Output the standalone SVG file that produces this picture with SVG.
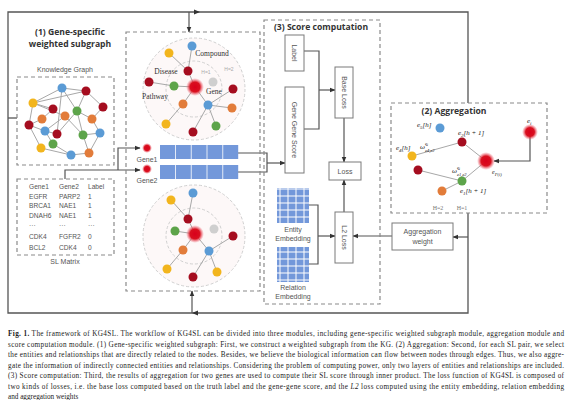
<svg xmlns="http://www.w3.org/2000/svg" width="572" height="400" viewBox="0 0 572 400">
<defs>
<style>
.fr{fill:none;stroke:#555;stroke-width:1.3}
.dash{fill:none;stroke:#8a8a8a;stroke-width:1.2;stroke-dasharray:4 3}
.box{fill:#fff;stroke:#7a7a7a;stroke-width:1}
.cn{fill:none;stroke:#555;stroke-width:1.2}
.ed{stroke:#a8a8a8;stroke-width:1}
.t{font-family:"Liberation Sans",Arial,sans-serif;fill:#555;font-size:7px}
.tt{font-family:"Open Sans","Liberation Sans",sans-serif;font-weight:bold;fill:#333;font-size:8.6px}
.sf{font-family:"Liberation Serif","Times New Roman",serif;fill:#333;font-size:7.5px}
.m{font-family:"Liberation Serif","Times New Roman",serif;font-style:italic;fill:#222;font-size:7px}
.cap{font-family:"Liberation Serif","Times New Roman",serif;fill:#222;font-size:7.2px}
.b{fill:#5b9bd5}.r{fill:#a50d1f}.y{fill:#f2b51d}.g{fill:#5da44a}.o{fill:#e27c3a}.gy{fill:#cfcfcf}
.cell{fill:#7398da}
.ring{fill:#fdf8f8;stroke:#d0d0d0;stroke-width:1;stroke-dasharray:3 2}
.ring2{fill:none;stroke:#d0d0d0;stroke-width:1;stroke-dasharray:3 2}
</style>
<marker id="ah" viewBox="0 0 10 10" refX="9" refY="5" markerWidth="5" markerHeight="5" orient="auto-start-reverse">
<path d="M0,1 L10,5 L0,9 z" fill="#333"/>
</marker>
<radialGradient id="glow">
<stop offset="0" stop-color="#d9001b"/>
<stop offset="0.55" stop-color="#d9101f"/>
<stop offset="1" stop-color="#f06070" stop-opacity="0"/>
</radialGradient>
<pattern id="grid" width="8" height="7" patternUnits="userSpaceOnUse">
<rect width="8" height="7" fill="#fff"/>
<rect x="0.5" y="0.5" width="7" height="6" fill="#7398da"/>
</pattern>
</defs>

<g id="connectors">
<polyline class="fr" points="468,103 468,12 8,12 8,313 468,313 468,213"/>
<line class="fr" x1="8" y1="118" x2="17" y2="118"/>
<path d="M200,12 l-6,-2.5 v5 z" fill="#333"/>
<line class="cn" x1="189" y1="12" x2="189" y2="32" marker-end="url(#ah)"/>
<path d="M192,313 l6,-2.5 v5 z" fill="#333"/>
<line class="cn" x1="192" y1="313" x2="192" y2="291" marker-end="url(#ah)"/>
<polyline class="cn" points="65,179 65,170 140,170" marker-end="url(#ah)"/>
<polyline class="cn" points="118,170 118,148 140,148" marker-end="url(#ah)"/>
<polyline class="cn" points="238,153 267,153 267,172 238,172"/>
<line class="cn" x1="267" y1="163" x2="285" y2="163" marker-end="url(#ah)"/>
<polyline class="cn" points="304,51 319,51 319,129 304,129"/>
<line class="cn" x1="319" y1="90" x2="335" y2="90" marker-end="url(#ah)"/>
<line class="cn" x1="344" y1="118" x2="344" y2="162" marker-end="url(#ah)"/>
<line class="cn" x1="344" y1="212" x2="344" y2="180" marker-end="url(#ah)"/>
<polyline class="cn" points="309,205 318,205 318,264 309,264"/>
<line class="cn" x1="318" y1="236" x2="335" y2="236" marker-end="url(#ah)"/>
<line class="cn" x1="392" y1="236" x2="353" y2="236" marker-end="url(#ah)"/>
<line class="cn" x1="468" y1="237" x2="453" y2="237" marker-end="url(#ah)"/>
<polyline class="cn" points="530,132 530,161 494,161" marker-end="url(#ah)"/>
</g>

<g id="module1">
<text class="tt" x="70" y="35" text-anchor="middle">(1) Gene-specific</text>
<text class="tt" x="70" y="47" text-anchor="middle">weighted subgraph</text>
</g>

<g id="knowledge-graph">
<text class="t" x="65" y="72" text-anchor="middle">Knowledge Graph</text>
<rect class="dash" x="17" y="77" width="97" height="88"/>
<g class="ed">
<line x1="62" y1="88" x2="86" y2="91"/><line x1="62" y1="88" x2="33" y2="103"/><line x1="62" y1="88" x2="77" y2="111"/><line x1="62" y1="88" x2="57" y2="134"/>
<line x1="33" y1="103" x2="86" y2="91"/><line x1="33" y1="103" x2="53" y2="109"/><line x1="33" y1="103" x2="29" y2="125"/><line x1="33" y1="103" x2="65" y2="116"/>
<line x1="86" y1="91" x2="103" y2="107"/><line x1="86" y1="91" x2="77" y2="111"/><line x1="77" y1="111" x2="92" y2="119"/><line x1="77" y1="111" x2="83" y2="135"/>
<line x1="103" y1="107" x2="92" y2="119"/><line x1="65" y1="116" x2="45" y2="131"/><line x1="65" y1="116" x2="83" y2="135"/><line x1="29" y1="125" x2="45" y2="131"/>
<line x1="29" y1="125" x2="41" y2="148"/><line x1="45" y1="131" x2="57" y2="134"/><line x1="45" y1="131" x2="53" y2="144"/><line x1="83" y1="135" x2="100" y2="133"/>
<line x1="83" y1="135" x2="89" y2="153"/><line x1="100" y1="133" x2="89" y2="153"/><line x1="53" y1="144" x2="71" y2="155"/><line x1="41" y1="148" x2="71" y2="155"/>
<line x1="71" y1="155" x2="89" y2="153"/><line x1="42" y1="119" x2="29" y2="125"/><line x1="42" y1="119" x2="53" y2="109"/><line x1="92" y1="119" x2="100" y2="133"/>
<line x1="57" y1="134" x2="77" y2="111"/>
</g>
<circle class="b" cx="62" cy="88" r="4.5"/><circle class="r" cx="86" cy="91" r="4.5"/><circle class="y" cx="33" cy="103" r="4.5"/>
<circle class="r" cx="53" cy="109" r="4.5"/><circle class="g" cx="77" cy="111" r="4.5"/><circle class="r" cx="103" cy="107" r="4.5"/>
<circle class="o" cx="42" cy="119" r="4.5"/><circle class="o" cx="65" cy="116" r="4.5"/><circle class="o" cx="92" cy="119" r="4.5"/>
<circle class="r" cx="29" cy="125" r="4.5"/><circle class="b" cx="45" cy="131" r="4.5"/><circle class="r" cx="57" cy="134" r="4.5"/>
<circle class="g" cx="83" cy="135" r="4.5"/><circle class="b" cx="100" cy="133" r="4.5"/><circle class="g" cx="53" cy="144" r="4.5"/>
<circle class="y" cx="41" cy="148" r="4.5"/><circle class="b" cx="71" cy="155" r="4.5"/><circle class="o" cx="89" cy="153" r="4.5"/>
</g>

<g id="sl-matrix">
<rect class="dash" x="17" y="179" width="97" height="76"/>
<g class="t" style="font-size:6.6px">
<text x="29" y="189">Gene1</text><text x="59" y="189">Gene2</text><text x="88" y="189">Label</text>
<text x="29" y="198.5">EGFR</text><text x="59" y="198.5">PARP2</text><text x="88" y="198.5">1</text>
<text x="29" y="208">BRCA1</text><text x="59" y="208">NAE1</text><text x="88" y="208">1</text>
<text x="29" y="217.5">DNAH6</text><text x="59" y="217.5">NAE1</text><text x="88" y="217.5">1</text>
<text x="29" y="228">···</text><text x="59" y="228">···</text><text x="88" y="228">···</text>
<text x="29" y="239">CDK4</text><text x="59" y="239">FGFR2</text><text x="88" y="239">0</text>
<text x="29" y="249.5">BCL2</text><text x="59" y="249.5">CDK4</text><text x="88" y="249.5">0</text>
</g>
<text class="t" x="65" y="264" text-anchor="middle">SL Matrix</text>
</g>

<g id="subgraph-module">
<rect class="dash" x="126" y="32" width="134" height="259"/>
</g>

<g id="subgraph-top">
<circle class="ring" cx="194" cy="89" r="51"/>
<circle class="ring2" cx="194" cy="89" r="28"/>
<g class="ed">
<line x1="195" y1="87" x2="188" y2="71"/><line x1="188" y1="71" x2="192" y2="46"/><line x1="188" y1="71" x2="169" y2="53"/>
<line x1="195" y1="87" x2="174" y2="86"/><line x1="174" y1="86" x2="149" y2="82"/><line x1="195" y1="87" x2="183" y2="104"/>
<line x1="183" y1="104" x2="166" y2="124"/><line x1="195" y1="87" x2="208" y2="105"/><line x1="208" y1="105" x2="233" y2="89"/>
<line x1="208" y1="105" x2="232" y2="108"/><line x1="208" y1="105" x2="216" y2="126"/><line x1="208" y1="105" x2="193" y2="132"/>
</g>
<text class="sf" x="212" y="56" text-anchor="middle">Compound</text>
<text class="sf" x="166" y="74" text-anchor="middle">Disease</text>
<text class="sf" x="155" y="99" text-anchor="middle">Pathway</text>
<text class="sf" x="214" y="94" text-anchor="middle">Gene</text>
<text class="t" x="206" y="74" style="font-size:5px;fill:#aaa" text-anchor="middle">H=1</text>
<text class="t" x="229" y="71" style="font-size:5px;fill:#aaa" text-anchor="middle">H=2</text>
<circle class="b" cx="192" cy="46" r="4.5"/><circle class="y" cx="169" cy="53" r="4.5"/><circle class="r" cx="188" cy="71" r="4.5"/>
<circle class="r" cx="149" cy="82" r="4.5"/><circle class="g" cx="174" cy="86" r="4.5"/><circle class="gy" cx="213" cy="82" r="4.5"/>
<circle class="r" cx="233" cy="89" r="4.5"/><circle class="o" cx="183" cy="104" r="4.5"/><circle class="b" cx="208" cy="105" r="4.5"/>
<circle class="o" cx="232" cy="108" r="4.5"/><circle class="y" cx="166" cy="124" r="4.5"/><circle class="r" cx="193" cy="132" r="4.5"/>
<circle class="g" cx="216" cy="126" r="4.5"/>
<circle cx="195" cy="87" r="9" fill="url(#glow)"/>
</g>

<g id="gene-embeddings">
<circle cx="147" cy="148" r="5" fill="url(#glow)"/>
<text class="t" x="147" y="162" text-anchor="middle">Gene1</text>
<circle cx="147" cy="169" r="5" fill="url(#glow)"/>
<text class="t" x="147" y="183" text-anchor="middle">Gene2</text>
<g class="cell">
<rect x="160" y="145" width="15" height="14"/><rect x="175.8" y="145" width="15" height="14"/><rect x="191.6" y="145" width="15" height="14"/><rect x="207.4" y="145" width="15" height="14"/><rect x="223.2" y="145" width="15" height="14"/>
<rect x="160" y="165" width="15" height="14"/><rect x="175.8" y="165" width="15" height="14"/><rect x="191.6" y="165" width="15" height="14"/><rect x="207.4" y="165" width="15" height="14"/><rect x="223.2" y="165" width="15" height="14"/>
</g>
</g>

<g id="subgraph-bottom">
<circle class="ring" cx="194" cy="236" r="51"/>
<circle class="ring2" cx="194" cy="236" r="28"/>
<g class="ed">
<line x1="195" y1="234" x2="188" y2="219"/><line x1="188" y1="219" x2="193" y2="193"/><line x1="188" y1="219" x2="171" y2="200"/>
<line x1="195" y1="234" x2="175" y2="231"/><line x1="195" y1="234" x2="183" y2="250"/><line x1="183" y1="250" x2="167" y2="269"/>
<line x1="195" y1="234" x2="209" y2="251"/><line x1="209" y1="251" x2="233" y2="236"/><line x1="209" y1="251" x2="217" y2="272"/>
<line x1="209" y1="251" x2="193" y2="277"/>
</g>
<circle class="b" cx="193" cy="193" r="4.5"/><circle class="y" cx="171" cy="200" r="4.5"/><circle class="r" cx="188" cy="219" r="4.5"/>
<circle class="g" cx="175" cy="231" r="4.5"/><circle class="gy" cx="214" cy="229" r="4.5"/><circle class="r" cx="233" cy="236" r="4.5"/>
<circle class="o" cx="183" cy="250" r="4.5"/><circle class="b" cx="209" cy="251" r="4.5"/><circle class="y" cx="167" cy="269" r="4.5"/>
<circle class="r" cx="193" cy="277" r="4.5"/><circle class="y" cx="217" cy="272" r="4.5"/>
<circle cx="195" cy="234" r="9" fill="url(#glow)"/>
</g>

<g id="score-computation">
<rect class="dash" x="264" y="20" width="116" height="284"/>
<text class="tt" x="321" y="30" text-anchor="middle">(3) Score computation</text>
</g>
<g id="label-box">
<rect class="box" x="285" y="35" width="19" height="36"/>
<text class="t" x="294.5" y="53" text-anchor="middle" dominant-baseline="central" transform="rotate(90 294.5 53)">Label</text>
</g>
<g id="gene-gene-score">
<rect class="box" x="285" y="87" width="19" height="86"/>
<text class="t" x="294.5" y="130" text-anchor="middle" dominant-baseline="central" transform="rotate(90 294.5 130)">Gene Gene Score</text>
</g>
<g id="base-loss">
<rect class="box" x="335" y="67" width="18" height="51"/>
<text class="t" x="344" y="92.5" text-anchor="middle" dominant-baseline="central" transform="rotate(90 344 92.5)">Base Loss</text>
</g>
<g id="loss">
<rect class="box" x="329" y="162" width="32" height="18"/>
<text class="t" x="345" y="173.5" text-anchor="middle">Loss</text>
</g>
<g id="l2-loss">
<rect class="box" x="335" y="212" width="18" height="51"/>
<text class="t" x="344" y="237.5" text-anchor="middle" dominant-baseline="central" transform="rotate(90 344 237.5)">L2 Loss</text>
</g>
<g id="entity-embedding">
<rect x="277" y="188" width="32" height="35" fill="url(#grid)"/>
<text class="t" x="293" y="232" text-anchor="middle">Entity</text>
<text class="t" x="293" y="241" text-anchor="middle">Embedding</text>
</g>
<g id="relation-embedding">
<rect x="277" y="247" width="32" height="35" fill="url(#grid)"/>
<text class="t" x="293" y="290" text-anchor="middle">Relation</text>
<text class="t" x="293" y="299" text-anchor="middle">Embedding</text>
</g>

<g id="aggregation">
<rect class="dash" x="391" y="103" width="156" height="110"/>
<text class="tt" x="454" y="114" text-anchor="middle">(2) Aggregation</text>
<g class="ed">
<line x1="412" y1="156" x2="462" y2="142"/><line x1="462" y1="142" x2="486" y2="161"/>
<line x1="418" y1="170" x2="462" y2="181"/><line x1="442" y1="191" x2="462" y2="181"/><line x1="462" y1="181" x2="486" y2="161"/>
</g>
<circle class="b" cx="440" cy="128" r="4.5"/><circle class="r" cx="462" cy="142" r="4.5"/><circle class="y" cx="412" cy="156" r="4.5"/>
<circle class="r" cx="418" cy="170" r="4.5"/><circle class="g" cx="462" cy="181" r="4.5"/><circle class="o" cx="442" cy="191" r="4.5"/>
<circle cx="486" cy="161" r="9" fill="url(#glow)"/>
<circle cx="530" cy="132" r="8" fill="url(#glow)"/>
<text class="m" x="527" y="123">e<tspan font-size="5" dy="1.5">i</tspan></text>
<text class="m" x="417" y="127">e<tspan font-size="5" dy="1.5">5</tspan><tspan dy="-1.5">[h]</tspan></text>
<text class="m" x="458" y="135">e<tspan font-size="5" dy="1.5">2</tspan><tspan dy="-1.5">[h + 1]</tspan></text>
<text class="m" x="396" y="150">e<tspan font-size="5" dy="1.5">4</tspan><tspan dy="-1.5">[h]</tspan></text>
<text class="m" x="460" y="193">e<tspan font-size="5" dy="1.5">1</tspan><tspan dy="-1.5">[h + 1]</tspan></text>
<text class="m" x="492" y="174" style="font-size:6px">e<tspan font-size="4.5" dy="1.5">P(i)</tspan></text>
<text class="m" x="420" y="149">ω̃<tspan font-size="4.5" dy="-4">e</tspan><tspan font-size="3.5" dy="1">i</tspan><tspan font-size="4.5" dx="-3" dy="6">e4,e2</tspan></text>
<text class="m" x="452" y="173">ω̃<tspan font-size="4.5" dy="-4">e</tspan><tspan font-size="3.5" dy="1">i</tspan><tspan font-size="4.5" dx="-3" dy="6">e1,e2</tspan></text>
<text class="sf" x="438" y="210" style="font-size:6px;fill:#777" text-anchor="middle">H=2</text>
<text class="sf" x="462" y="210" style="font-size:6px;fill:#777" text-anchor="middle">H=1</text>
</g>

<g id="aggregation-weight">
<rect class="box" x="392" y="223" width="61" height="27"/>
<text class="t" x="422.5" y="234" text-anchor="middle">Aggregation</text>
<text class="t" x="422.5" y="244" text-anchor="middle">weight</text>
</g>

<g id="caption" class="cap">
<text x="8" y="336" textLength="556" lengthAdjust="spacing"><tspan font-weight="bold">Fig. 1.</tspan> The framework of KG4SL. The workflow of KG4SL can be divided into three modules, including gene-specific weighted subgraph module, aggregation module and</text>
<text x="8" y="346.5" textLength="556" lengthAdjust="spacing">score computation module. (1) Gene-specific weighted subgraph: First, we construct a weighted subgraph from the KG. (2) Aggregation: Second, for each SL pair, we select</text>
<text x="8" y="357" textLength="556" lengthAdjust="spacing">the entities and relationships that are directly related to the nodes. Besides, we believe the biological information can flow between nodes through edges. Thus, we also aggre-</text>
<text x="8" y="367.5" textLength="556" lengthAdjust="spacing">gate the information of indirectly connected entities and relationships. Considering the problem of computing power, only two layers of entities and relationships are included.</text>
<text x="8" y="378" textLength="556" lengthAdjust="spacing">(3) Score computation: Third, the results of aggregation for two genes are used to compute their SL score through inner product. The loss function of KG4SL is composed of</text>
<text x="8" y="388.5" textLength="556" lengthAdjust="spacing">two kinds of losses, i.e. the base loss computed based on the truth label and the gene-gene score, and the <tspan font-style="italic">L2</tspan> loss computed using the entity embedding, relation embedding</text>
<text x="8" y="399">and aggregation weights</text>
</g>
</svg>
